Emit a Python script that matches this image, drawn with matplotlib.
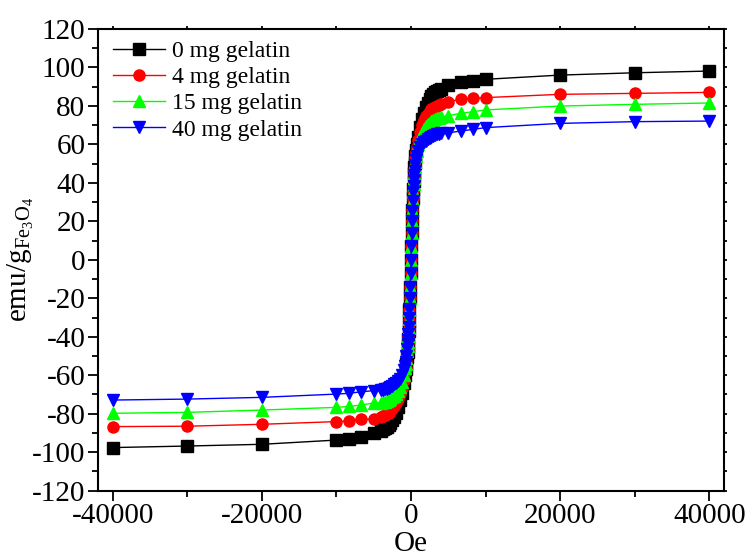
import numpy as np
import matplotlib.pyplot as plt
from matplotlib.ticker import MultipleLocator

plt.rcParams['font.family'] = ['Liberation Serif', 'DejaVu Serif']
plt.rcParams['mathtext.fontset'] = 'custom'
plt.rcParams['mathtext.rm'] = 'Liberation Serif'
plt.rcParams['mathtext.it'] = 'Liberation Serif:italic'
plt.rcParams['axes.unicode_minus'] = False

# applied field (Oe), positive branch; the negative branch uses -field
field = [0, 50, 100, 150, 200, 250, 300, 350, 400, 450, 500, 600, 700, 800,
         1000, 1250, 1500, 1750, 2000, 2250, 2500, 2750, 3000, 3250, 3500,
         3750, 4000, 5000, 6667, 8333, 10000, 20000, 30000, 40000]

# magnetization (emu/g Fe3O4), H >= 0
m0_pos  = [0, 7, 14, 20, 26, 32, 37, 41, 45, 48, 50.5, 54, 57, 60,
           64, 69, 73, 76.5, 79.5, 81.5, 83.5, 85, 86, 87, 87.5,
           88.2, 88.8, 90.7, 92.2, 92.9, 93.8, 96.0, 97.2, 98.1]
m4_pos  = [0, 7, 14, 20, 26, 31.5, 36, 40, 43.5, 46.5, 49, 53, 56, 58.5,
           62.5, 66.5, 70, 72.5, 74.5, 76, 77.2, 78.2, 79, 79.6, 80.1,
           80.6, 81, 82.2, 83.4, 83.9, 84.3, 86.0, 86.5, 87.0]
m15_pos = [0, 7, 14, 20, 26, 31, 35.5, 39.5, 42.5, 45, 47.5, 51, 54, 56.5,
           60, 63.5, 66, 68, 69.5, 70.5, 71.3, 72, 72.6, 73.1, 73.5,
           73.9, 74.2, 74.9, 76.1, 77.0, 77.9, 79.9, 80.8, 81.5]
m40_pos = [0, 7, 14, 20, 25.5, 30.5, 35, 38.5, 41.5, 44, 46, 49.5, 52, 54,
           56.5, 58.5, 60, 61, 62, 62.8, 63.5, 64, 64.5, 64.9, 65.2,
           65.5, 65.8, 66.0, 66.9, 67.8, 68.7, 70.9, 71.8, 72.1]

# H <= 0 (same field magnitudes, listed from 0 outwards)
m0_neg  = [0, -7, -14, -20, -26, -32, -37, -41, -45, -48, -50.5, -54, -57, -60,
           -64, -69, -73, -76.5, -79.5, -81.5, -83.5, -85, -86, -87, -87.5,
           -88.2, -88.8, -90.0, -92.3, -93.0, -93.7, -95.9, -96.8, -97.6]
m4_neg  = [0, -7, -14, -20, -26, -31.5, -36, -40, -43.5, -46.5, -49, -53, -56, -58.5,
           -62.5, -66.5, -70, -72.5, -74.5, -76, -77.4, -78.5, -79.4, -80.1, -80.7,
           -81.3, -81.8, -82.7, -83.0, -83.8, -84.1, -85.5, -86.5, -86.7]
m15_neg = [0, -7, -14, -20, -26, -31, -35.5, -39.5, -42.5, -45, -47.5, -51, -54, -56.5,
           -60, -63.5, -66, -68, -69.5, -70.6, -71.5, -72.2, -72.8, -73.3, -73.7,
           -74.0, -74.2, -74.4, -75.5, -76.2, -76.7, -78.1, -79.3, -79.8]
m40_neg = [0, -7, -14, -20, -25.5, -30.5, -35, -38.5, -41.5, -44, -46.5, -50, -53, -55,
           -57.5, -60, -61.8, -63, -64, -64.8, -65.5, -66, -66.5, -66.9, -67.2,
           -67.5, -67.8, -68.0, -68.6, -69.4, -69.8, -71.5, -72.4, -72.9]

labels = ['0 mg gelatin', '4 mg gelatin', '15 mg gelatin', '40 mg gelatin']
colors = ['black', 'red', '#00ff00', 'blue']
markers = ['s', 'o', '^', 'v']

fig = plt.figure(figsize=(7.52, 5.56), dpi=100)
ax = fig.add_axes([0.130, 0.1175, 0.833, 0.8305])

h = np.array(field)
series = [(m0_neg, m0_pos), (m4_neg, m4_pos), (m15_neg, m15_pos), (m40_neg, m40_pos)]
for (neg, pos), lab, c, mk in zip(series, labels, colors, markers):
    x = np.concatenate([-h[::-1], h[1:]])
    y = np.concatenate([np.array(neg)[::-1], np.array(pos)[1:]])
    ax.plot(x, y, color=c, marker=mk, markersize=8, linewidth=1.0,
            markeredgecolor=c, label=lab)

ax.set_xlim(-42000, 42000)
ax.set_ylim(-120, 120)
ax.xaxis.set_major_locator(MultipleLocator(20000))
ax.xaxis.set_minor_locator(MultipleLocator(10000))
ax.yaxis.set_major_locator(MultipleLocator(20))
ax.yaxis.set_minor_locator(MultipleLocator(10))

for s in ax.spines.values():
    s.set_linewidth(1.5)
ax.tick_params(axis='both', which='major', direction='out', length=7, width=1.3,
               labelsize=21, pad=2)
ax.tick_params(axis='both', which='minor', direction='out', length=4, width=1.3)
ax.tick_params(top=True, right=True, which='both')
for t in ax.xaxis.get_major_ticks() + ax.xaxis.get_minor_ticks():
    t.tick2line.set_markersize(2)
for t in ax.yaxis.get_major_ticks() + ax.yaxis.get_minor_ticks():
    t.tick2line.set_markersize(2)

ax.set_xlabel('Oe', fontsize=21, labelpad=1)
ax.set_ylabel(r'emu/g$_{\mathregular{Fe_3O_4}}$', fontsize=21)
ax.yaxis.set_label_coords(-0.098, 0.5)

ax.legend(loc='upper left', bbox_to_anchor=(0.024, 0.975), frameon=False,
          fontsize=17, handlelength=2.2, handletextpad=0.3, labelspacing=0.2,
          borderpad=0, borderaxespad=0)

fig.savefig('out.png', dpi=100)
